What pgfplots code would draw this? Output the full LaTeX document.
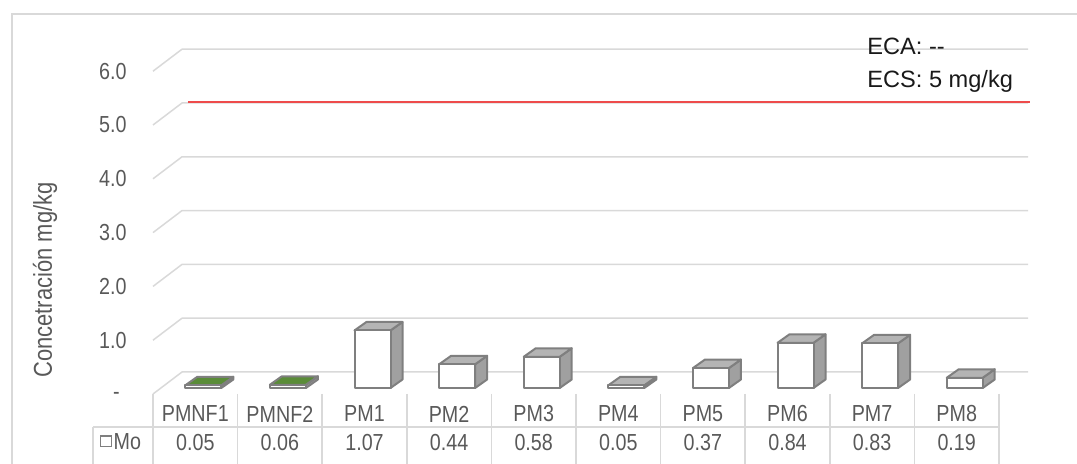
\documentclass[border=0pt]{standalone}
\usepackage{pgfplots}
\pgfplotsset{compat=1.18}
\usepackage{pgfplotstable}
\usepackage{fontspec}
\setmainfont{Liberation Sans}
\newfontfamily\narrowfont{Liberation Sans}[FakeStretch=0.85]

\definecolor{gridgray}{HTML}{D9D9D9}
\definecolor{labelgray}{HTML}{595959}
\definecolor{edgegray}{HTML}{7F7F7F}
\definecolor{sidegray}{HTML}{A0A0A0}
\definecolor{topgray}{HTML}{B4B4B4}
\definecolor{topgreen}{HTML}{5A8C38}
\definecolor{ecsred}{HTML}{EE4B4B}

% Mo concentration per sampling point (mg/kg); green = reference points
\pgfplotstableread{
idx name  Mo   green
0   PMNF1 0.05 1
1   PMNF2 0.06 1
2   PM1   1.07 0
3   PM2   0.44 0
4   PM3   0.58 0
5   PM4   0.05 0
6   PM5   0.37 0
7   PM6   0.84 0
8   PM7   0.83 0
9   PM8   0.19 0
}\motable

\pgfdeclareplotmark{none3d}{}

\begin{document}
\begin{tikzpicture}[font=\narrowfont\fontsize{11.6}{14}\selectfont]
\useasboundingbox (0,0) rectangle (538.5pt,-232pt);
\draw[gridgray, line width=0.75pt] (6pt,-7pt) rectangle (545pt,-245pt);

\begin{axis}[
  at={(80.5pt,-194pt)}, anchor=south west,
  x=42.3pt, y=26.9pt,
  xmin=-0.5, xmax=9.5, ymin=0, ymax=6,
  hide axis, clip=false,
]
% wall gridlines: side wall diagonal, then back wall
\pgfplotsinvokeforeach{0,...,6}{
  \draw[gridgray, line width=0.75pt, line join=round]
    ([shift={(-4pt,-3pt)}]axis cs:-0.5,#1) --
    ([shift={(10.5pt,8pt)}]axis cs:-0.5,#1) --
    ([shift={(10.5pt,8pt)}]axis cs:9.5,#1);
}
% value axis labels
\pgfplotsinvokeforeach{1,...,6}{
  \node[anchor=east, text=labelgray, inner sep=0pt]
    at ([shift={(-17pt,-3pt)}]axis cs:-0.5,#1) {#1.0};
}
\node[anchor=east, text=labelgray, inner sep=0pt]
  at ([shift={(-20.5pt,-4pt)}]axis cs:-0.5,0) {-};

% ECS limit on the back wall
\addplot[ecsred, line width=1pt, xshift=10.5pt, yshift=8.5pt]
  coordinates {(-0.43,5) (9.52,5)};

% 3D columns
\addplot[scatter, only marks, mark=none3d,
  visualization depends on={rawy \as \barval},
  visualization depends on={\thisrow{green} \as \isgreen},
  scatter/@pre marker code/.code={%
    \pgfmathsetmacro\hh{\barval*26.9}%
    \pgfmathsetmacro\hb{4.25-\hh}%
    \ifdim\isgreen pt>0.5pt \def\topcol{topgreen}\else\def\topcol{topgray}\fi
    \filldraw[fill=sidegray, draw=edgegray, line width=1pt, line join=round]
      (9pt,-\hh pt) -- (9pt,0pt) -- (15pt,4.25pt) -- (15pt,\hb pt) -- cycle;
    \filldraw[fill=\topcol, draw=edgegray, line width=1pt, line join=round]
      (-9pt,0pt) -- (9pt,0pt) -- (15pt,4.25pt) -- (-3pt,4.25pt) -- cycle;
    \filldraw[fill=white, draw=edgegray, line width=1pt, line join=round]
      (-9pt,-\hh pt) rectangle (9pt,0pt);
  },
  scatter/@post marker code/.code={},
] table[x=idx, y=Mo] {\motable};

% data table under the plot
\pgfplotsinvokeforeach{-0.5,0.5,...,9.5}{
  \draw[gridgray, line width=0.75pt]
    ([shift={(-4pt,-3pt)}]axis cs:#1,0) -- ([shift={(-4pt,-50pt)}]axis cs:#1,0);
}
\draw[gridgray, line width=0.75pt]
  ([shift={(-34pt,-19.5pt)}]axis cs:-0.5,0) -- ([shift={(-4pt,-19.5pt)}]axis cs:9.5,0);
\draw[gridgray, line width=0.75pt]
  ([shift={(-34pt,-19.5pt)}]axis cs:-0.5,0) -- ([shift={(-34pt,-50pt)}]axis cs:-0.5,0);
\pgfplotstableforeachcolumnelement{name}\of\motable\as\cell{%
  \edef\tmp{\noexpand\node[text=labelgray]
    at ([shift={(-4pt,-13pt)}]axis cs:\pgfplotstablerow,0) {\cell};}\tmp
}
\pgfplotstableforeachcolumnelement{Mo}\of\motable\as\cell{%
  \edef\tmp{\noexpand\node[text=labelgray]
    at ([shift={(-4pt,-27.25pt)}]axis cs:\pgfplotstablerow,0) {\cell};}\tmp
}
\end{axis}

% legend key of the table row
\draw[edgegray, line width=0.7pt] (50.3pt,-218pt) rectangle (55.6pt,-223.3pt);
\node[anchor=west, inner sep=0pt, text=labelgray] at (56.6pt,-220.9pt) {Mo};

% axis title
\node[rotate=90, text=labelgray, font=\narrowfont\fontsize{12.9}{15}\selectfont]
  at (22.5pt,-140pt) {Concetración mg/kg};

% limits
\begin{scope}[font=\fontsize{11.8}{14}\selectfont]
\node[anchor=base west, inner sep=0pt, text=black!90] at (433.5pt,-27.5pt) {ECA: -{}-};
\node[anchor=base west, inner sep=0pt, text=black!90] at (433.5pt,-44pt) {ECS: 5 mg/kg};
\end{scope}
\end{tikzpicture}
\end{document}
